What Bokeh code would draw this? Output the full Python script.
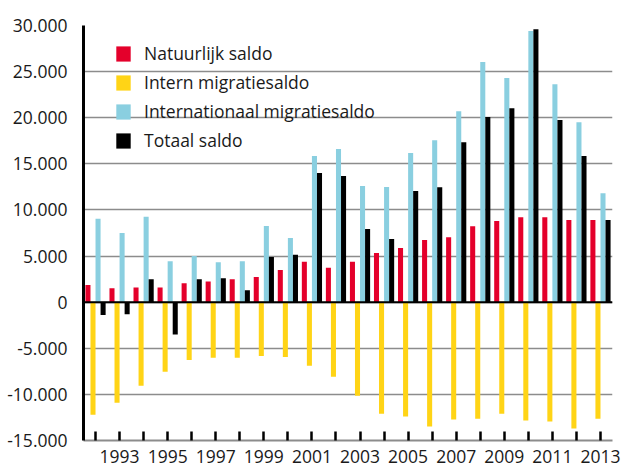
from bokeh.plotting import figure
from bokeh.models import ColumnDataSource, Span, FixedTicker, Legend, LegendItem, Range1d
from bokeh.transform import dodge
from bokeh.embed import file_html
from bokeh.resources import INLINE

years = list(range(1992, 2014))
natuurlijk = [1850, 1500, 1600, 1600, 2050, 2250, 2480, 2720, 3500, 4370, 3720, 4370, 5340, 5880, 6740, 7050, 8240, 8790, 9220, 9220, 8900, 8900]
intern = [-12200, -10900, -9060, -7550, -6260, -6040, -6040, -5830, -5940, -6900, -8090, -10140, -12090, -12410, -13490, -12730, -12630, -12090, -12840, -12950, -13700, -12630]
internationaal = [9050, 7500, 9250, 4450, 5000, 4340, 4450, 8270, 6970, 15850, 16600, 12600, 12500, 16170, 17570, 20700, 26030, 24300, 29400, 23640, 19520, 11820]
totaal = [-1400, -1300, 2480, -3500, 2480, 2600, 1280, 4900, 5130, 14000, 13680, 7940, 6860, 12060, 12470, 17350, 20070, 21040, 29600, 19740, 15840, 8900]

series_names = ["Natuurlijk saldo", "Intern migratiesaldo", "Internationaal migratiesaldo", "Totaal saldo"]
y_ticks = [-15000, -10000, -5000, 0, 5000, 10000, 15000, 20000, 25000, 30000]
y_tick_labels = ["-15.000", "-10.000", "-5.000", "0", "5.000", "10.000", "15.000", "20.000", "25.000", "30.000"]
x_label_years = [1993, 1995, 1997, 1999, 2001, 2003, 2005, 2007, 2009, 2011, 2013]

colors = ["#E4002B", "#FFD416", "#8ACFE0", "#000000"]
offsets = [-0.315, -0.105, 0.105, 0.315]
bar_w = 0.21
FONT = "Open Sans"
FS = "17.5px"

source = ColumnDataSource(data=dict(year=years, nat=natuurlijk, intern=intern,
                                    intl=internationaal, tot=totaal))

p = figure(width=622, height=466, output_backend="svg", toolbar_location=None,
           x_range=Range1d(1991.5, 2013.5), y_range=Range1d(-15000, 30000),
           min_border_left=83, min_border_right=10, min_border_top=25, min_border_bottom=26)
p.outline_line_color = None
p.background_fill_color = "white"

renderers = []
for field, col, off in zip(["nat", "intern", "intl", "tot"], colors, offsets):
    r = p.vbar(x=dodge("year", off), top=field, bottom=0, width=bar_w, source=source,
               fill_color=col, line_color=None)
    renderers.append(r)

p.add_layout(Span(location=0, dimension="width", line_color="black", line_width=2))

# grid
p.xgrid.grid_line_color = None
p.ygrid.ticker = FixedTicker(ticks=y_ticks)
p.ygrid.grid_line_color = "#8c8c8c"
p.ygrid.grid_line_width = 1.5

# y axis
p.yaxis.ticker = FixedTicker(ticks=y_ticks)
p.yaxis.major_label_overrides = {t: l for t, l in zip(y_ticks, y_tick_labels)}
p.yaxis.axis_line_color = "black"
p.yaxis.axis_line_width = 3
p.yaxis.major_tick_line_color = None
p.yaxis.minor_tick_line_color = None
p.yaxis.major_label_standoff = 10
p.yaxis.major_label_text_font = FONT
p.yaxis.major_label_text_font_size = FS
p.yaxis.major_label_text_color = "#1a1a1a"

# x axis
p.xaxis.ticker = FixedTicker(ticks=years)
p.xaxis.major_label_overrides = {y: (str(y) if y in x_label_years else "") for y in years}
p.xaxis.axis_line_color = "#8c8c8c"
p.xaxis.axis_line_width = 2
p.xaxis.major_tick_line_color = "black"
p.xaxis.major_tick_line_width = 2.5
p.xaxis.major_tick_in = 9
p.xaxis.major_tick_out = 0
p.xaxis.minor_tick_line_color = None
p.xaxis.major_label_standoff = 9
p.xaxis.major_label_text_font = FONT
p.xaxis.major_label_text_font_size = FS
p.xaxis.major_label_text_color = "#1a1a1a"

legend = Legend(items=[LegendItem(label=n, renderers=[r]) for n, r in zip(series_names, renderers)],
                location=(31, 288), orientation="vertical")
legend.border_line_color = None
legend.background_fill_alpha = 0
legend.padding = 0
legend.margin = 0
legend.spacing = 5
legend.glyph_width = 18
legend.glyph_height = 19
legend.label_standoff = 12
legend.label_text_font = FONT
legend.label_text_font_size = FS
legend.label_text_color = "#1a1a1a"
p.add_layout(legend, "center")

open("out.html", "w").write(file_html(p, INLINE))
